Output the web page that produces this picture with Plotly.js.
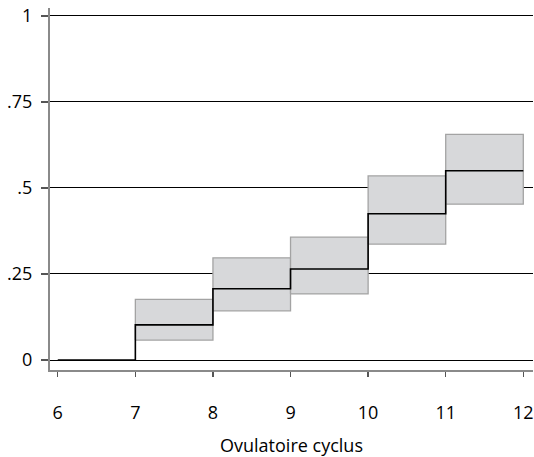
<!DOCTYPE html>
<html>
<head>
<meta charset="utf-8">
<script src="https://cdn.plot.ly/plotly-3.0.1.min.js"></script>
<style>html,body{margin:0;padding:0;background:#fff;}#chart{width:534px;height:457px;}</style>
</head>
<body>
<div id="chart"></div>
<script>
// Data
const stepX = [6, 7, 8, 9, 10, 11, 12];
const stepY = [0, 0.102, 0.207, 0.2645, 0.425, 0.550, 0.550];
const ciStart = [7, 8, 9, 10, 11];
const ciEnd = [8, 9, 10, 11, 12];
const ciLow = [0.058, 0.143, 0.192, 0.337, 0.453];
const ciHigh = [0.176, 0.297, 0.357, 0.535, 0.656];
const yTickVals = [0, 0.25, 0.5, 0.75, 1];
const yTickText = ['0', '.25', '.5', '.75', '1'];
const xTickVals = [6, 7, 8, 9, 10, 11, 12];
const xTitle = 'Ovulatoire cyclus';

const traces = [];
for (let i = 0; i < ciStart.length; i++) {
  traces.push({
    type: 'scatter', mode: 'lines',
    x: [ciStart[i], ciEnd[i], ciEnd[i], ciStart[i], ciStart[i]],
    y: [ciLow[i], ciLow[i], ciHigh[i], ciHigh[i], ciLow[i]],
    fill: 'toself', fillcolor: '#d7d8da',
    line: {color: '#a3a3a3', width: 1.3},
    hoverinfo: 'skip', showlegend: false
  });
}
traces.push({
  type: 'scatter', mode: 'lines',
  x: stepX, y: stepY,
  line: {shape: 'hv', color: '#000', width: 1.6},
  showlegend: false
});

const fontFam = '"Open Sans", "Noto Sans", sans-serif';
const layout = {
  width: 534, height: 457,
  margin: {l: 50, r: 1, t: 8, b: 87},
  paper_bgcolor: '#fff', plot_bgcolor: '#fff',
  font: {family: fontFam, color: '#000', size: 18},
  showlegend: false,
  xaxis: {
    range: [5.9, 12.125],
    tickvals: xTickVals, ticktext: xTickVals.map(String),
    showgrid: false, zeroline: false,
    showline: true, linecolor: '#8a8a8a', linewidth: 2,
    ticks: 'outside', ticklen: 5, tickwidth: 1.3, tickcolor: '#555',
    ticklabelstandoff: 20,
    tickfont: {size: 18, family: fontFam, color: '#000'},
    title: {text: xTitle, font: {size: 18, family: fontFam, color: '#000'}, standoff: 18}
  },
  yaxis: {
    range: [-0.029, 1.023],
    tickvals: yTickVals, ticktext: yTickText,
    showgrid: true, gridcolor: '#000', gridwidth: 1,
    zeroline: false,
    showline: true, linecolor: '#8a8a8a', linewidth: 2,
    ticks: 'outside', ticklen: 7, tickwidth: 1.3, tickcolor: '#555',
    ticklabelstandoff: 5,
    tickfont: {size: 18, family: fontFam, color: '#000'}
  }
};

Plotly.newPlot('chart', traces, layout, {displayModeBar: false, staticPlot: true});
</script>
</body>
</html>
